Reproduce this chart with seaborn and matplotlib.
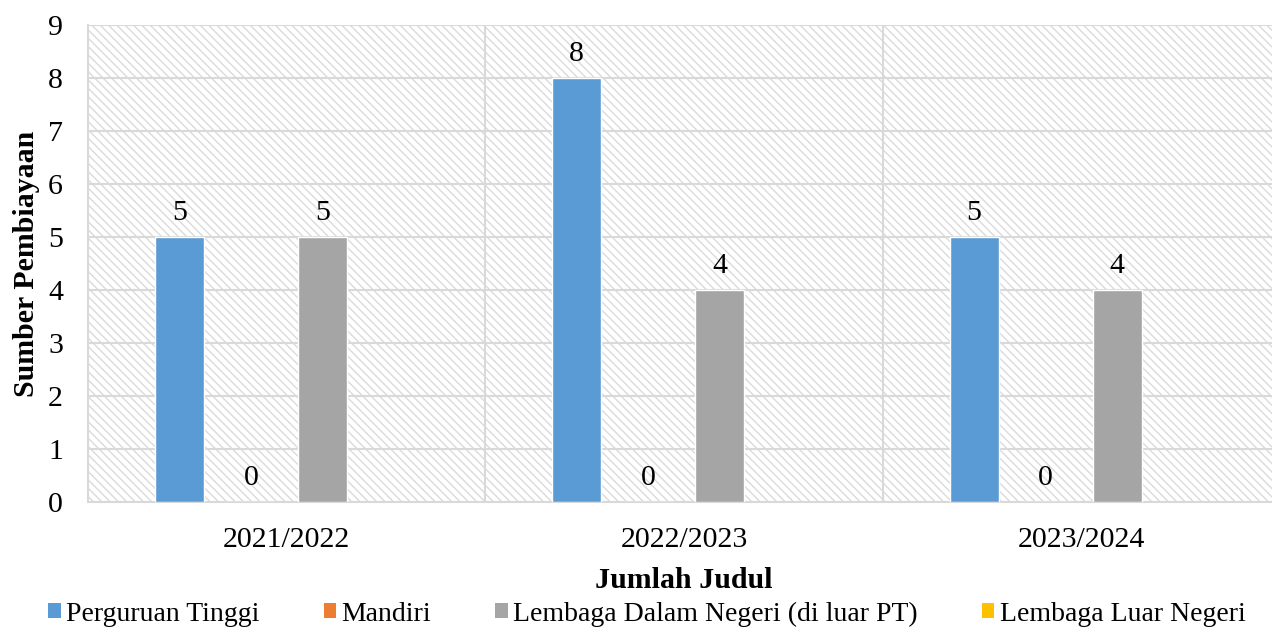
import numpy as np
import pandas as pd
import matplotlib
matplotlib.use("Agg")
import matplotlib.pyplot as plt
from matplotlib.patches import Patch, Rectangle
import seaborn as sns

# data
tahun = ['2021/2022', '2022/2023', '2023/2024']
sumber = ['Perguruan Tinggi', 'Mandiri', 'Lembaga Dalam Negeri (di luar PT)', 'Lembaga Luar Negeri']
perguruan_tinggi = [5, 8, 5]
mandiri = [0, 0, 0]
dalam_negeri = [5, 4, 4]
luar_negeri = [np.nan, np.nan, np.nan]  # kosong, tidak ada label di grafik
warna = ['#5B9BD5', '#ED7D31', '#A5A5A5', '#FFC000']

rows = []
for s, vals in zip(sumber, [perguruan_tinggi, mandiri, dalam_negeri, luar_negeri]):
    for t, v in zip(tahun, vals):
        rows.append({'Tahun': t, 'Sumber': s, 'Nilai': v})
df = pd.DataFrame(rows)

sns.set_style('white')
plt.rcParams['font.family'] = ['Liberation Serif', 'DejaVu Serif']
plt.rcParams['text.color'] = 'black'
plt.rcParams['axes.labelcolor'] = 'black'
plt.rcParams['xtick.color'] = 'black'
plt.rcParams['ytick.color'] = 'black'
fs = 21.5

W, H = 1272, 629
fig = plt.figure(figsize=(W / 100, H / 100), dpi=100)
ax = fig.add_axes([88 / W, (H - 502) / H, (1280 - 88) / W, (502 - 25) / H])

# latar belakang bergaris
plt.rcParams['hatch.linewidth'] = 1.0
bg = Rectangle((0, 0), 1, 1, transform=ax.transAxes, facecolor='white',
               edgecolor='#dadada', hatch='\\\\\\\\', linewidth=0, zorder=0)
ax.add_patch(bg)

sns.barplot(data=df, x='Tahun', y='Nilai', hue='Sumber', hue_order=sumber,
            order=tahun, palette=dict(zip(sumber, warna)), errorbar=None,
            width=0.72, gap=0.315, saturation=1, legend=False, ax=ax, zorder=3)

for cont in ax.containers:
    labels = ['' if np.isnan(v) else f'{v:.0f}' for v in cont.datavalues]
    ax.bar_label(cont, labels=labels, padding=8, fontsize=fs, color='black')

ax.set_xlim(-0.5, 2.5)
ax.set_ylim(0, 9)
ax.set_yticks(range(0, 10))
ax.set_xticks([0.5, 1.5], minor=True)
ax.set_axisbelow(True)
ax.grid(axis='y', which='major', color='#d9d9d9', lw=1.5)
ax.grid(axis='x', which='minor', color='#d9d9d9', lw=1.5)
ax.grid(axis='x', which='major', visible=False)
for side in ['top', 'right']:
    ax.spines[side].set_visible(False)
for side in ['left', 'bottom']:
    ax.spines[side].set_color('#d9d9d9')
    ax.spines[side].set_linewidth(1.5)
ax.tick_params(axis='both', which='both', length=0, labelsize=fs, labelcolor='black')
ax.tick_params(axis='y', pad=18)
ax.tick_params(axis='x', pad=18)

ax.set_xlabel('Jumlah Judul', fontsize=fs, fontweight='bold', labelpad=10, color='black')
ax.set_ylabel('Sumber Pembiayaan', fontsize=fs, fontweight='bold', labelpad=6, color='black')

handles = [Patch(facecolor=c, edgecolor='none', label=s) for s, c in zip(sumber, warna)]
fig.legend(handles=handles, loc='center', bbox_to_anchor=(647 / W, (H - 614) / H),
           ncol=4, frameon=False, fontsize=20, handlelength=0.45, handleheight=0.45,
           handletextpad=0.2, columnspacing=2.3, borderaxespad=0, labelcolor='black')

fig.savefig('out.png', dpi=100)
